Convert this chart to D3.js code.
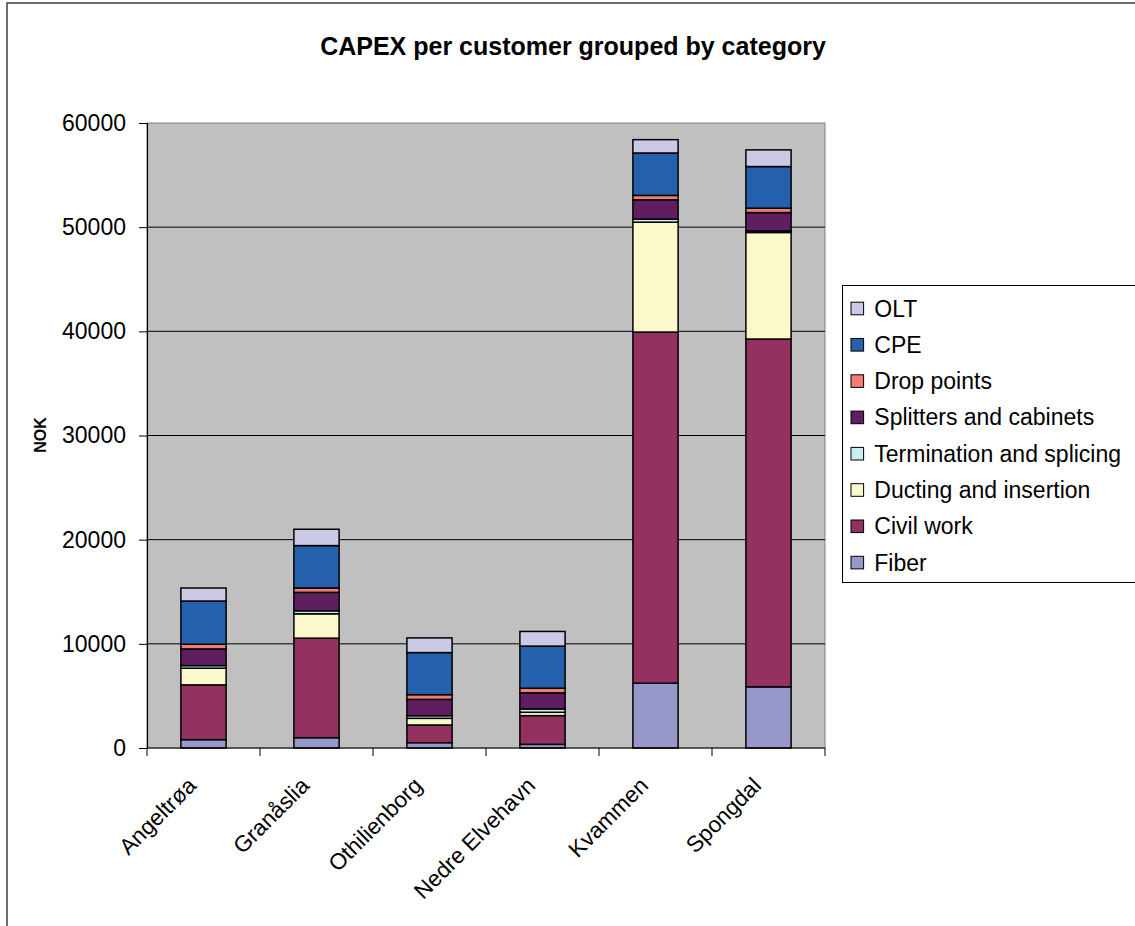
<!DOCTYPE html>
<html><head><meta charset="utf-8">
<script src="https://cdn.jsdelivr.net/npm/d3@7"></script>
<style>body{margin:0;background:#fff;} svg{display:block;font-family:"Liberation Sans",Arial,sans-serif;}</style>
</head><body>
<svg id="c" width="1135" height="926"></svg>
<script>
const categories = ["Angeltrøa","Granåslia","Othilienborg","Nedre Elvehavn","Kvammen","Spongdal"];
const seriesNames = ["Fiber","Civil work","Ducting and insertion","Termination and splicing","Splitters and cabinets","Drop points","CPE","OLT"];
const fiber       = [800, 990, 510, 350, 6220, 5870];
const civilWork   = [5260, 9555, 1700, 2760, 33710, 33390];
const ducting     = [1600, 2340, 640, 320, 10550, 10230];
const termination = [250, 285, 250, 320, 290, 150];
const splitters   = [1600, 1770, 1570, 1540, 1860, 1760];
const dropPoints  = [450, 420, 450, 450, 420, 420];
const cpe         = [4150, 4070, 4040, 4040, 4070, 4000];
const olt         = [1250, 1570, 1410, 1410, 1280, 1600];
const yTicks = [0,10000,20000,30000,40000,50000,60000];
const colors = ["#9797c9","#933160","#fbf8cc","#cdeef0","#5f1e5f","#f27c76","#2661ad","#cbcae6"];

const seriesValues = [fiber, civilWork, ducting, termination, splitters, dropPoints, cpe, olt];
const rows = categories.map((c,i)=>{const r={cat:c}; seriesNames.forEach((s,j)=>r[s]=seriesValues[j][i]); return r;});
const stacked = d3.stack().keys(seriesNames)(rows);

const svg = d3.select("#c");
svg.append("rect").attr("x",7).attr("y",3).attr("width",1140).attr("height",940)
  .attr("fill","none").attr("stroke","#404040").attr("stroke-width",1.5);

const L=147, R=825, T=123, B=748;
const x = d3.scaleBand().domain(categories).range([L,R]).paddingInner(0.6).paddingOuter(0.3);
const xb = d3.scaleBand().domain(categories).range([L,R]);
const y = d3.scaleLinear().domain([0,60000]).range([B,T]);

svg.append("rect").attr("x",L).attr("y",T).attr("width",R-L).attr("height",B-T)
  .attr("fill","#c0c0c0").attr("stroke","#808080").attr("stroke-width",1);

svg.append("g").selectAll("line").data(yTicks.filter(d=>d>0&&d<60000)).join("line")
  .attr("x1",L).attr("x2",R).attr("y1",d=>y(d)).attr("y2",d=>y(d))
  .attr("stroke","#000").attr("stroke-width",1);

svg.append("g").selectAll("g").data(stacked).join("g")
  .attr("fill",(d,i)=>colors[i])
  .selectAll("rect").data(d=>d).join("rect")
  .attr("x",d=>x(d.data.cat)).attr("width",x.bandwidth())
  .attr("y",d=>y(d[1])).attr("height",d=>y(d[0])-y(d[1]))
  .attr("stroke","#000").attr("stroke-width",1.5);

const ya = svg.append("g").attr("transform",`translate(${L},0)`)
  .call(d3.axisLeft(y).tickValues(yTicks).tickSize(8).tickPadding(13).tickFormat(d3.format("d")));
ya.select(".domain").attr("stroke","#000").attr("stroke-width",1.2);
ya.selectAll(".tick line").attr("stroke","#000");
ya.selectAll("text").attr("font-size",23).attr("fill","#000").attr("font-family","Liberation Sans, Arial, sans-serif");

const xa = svg.append("g").attr("transform",`translate(0,${B})`);
xa.append("line").attr("x1",L).attr("x2",R).attr("stroke","#000").attr("stroke-width",1.2);
const bounds = categories.map(c=>xb(c)).concat([R]);
xa.selectAll("line.tk").data(bounds).join("line").attr("class","tk")
  .attr("x1",d=>d).attr("x2",d=>d).attr("y1",0).attr("y2",8).attr("stroke","#000");
xa.selectAll("text").data(categories).join("text")
  .attr("transform",d=>`translate(${xb(d)+xb.bandwidth()/2-6},${39}) rotate(-45)`)
  .attr("text-anchor","end").attr("font-size",22.5).text(d=>d);

svg.append("text").attr("x",573).attr("y",55).attr("text-anchor","middle")
  .attr("font-size",25).attr("font-weight","bold").text("CAPEX per customer grouped by category");
svg.append("text").attr("transform","translate(46,435) rotate(-90)").attr("text-anchor","middle")
  .attr("font-size",16).attr("font-weight","bold").text("NOK");

const lg = svg.append("g");
lg.append("rect").attr("x",842.5).attr("y",285.5).attr("width",300).attr("height",297)
  .attr("fill","#fff").attr("stroke","#000").attr("stroke-width",1);
const legendItems = seriesNames.map((s,i)=>({name:s,color:colors[i]})).reverse();
const li = lg.selectAll("g.it").data(legendItems).join("g").attr("class","it")
  .attr("transform",(d,i)=>`translate(851,${308.5+i*36.3})`);
li.append("rect").attr("x",0).attr("y",-6.3).attr("width",12.6).attr("height",12.6)
  .attr("fill",d=>d.color).attr("stroke","#000").attr("stroke-width",1);
li.append("text").attr("x",23.3).attr("y",8).attr("font-size",23).text(d=>d.name);
</script>
</body></html>
